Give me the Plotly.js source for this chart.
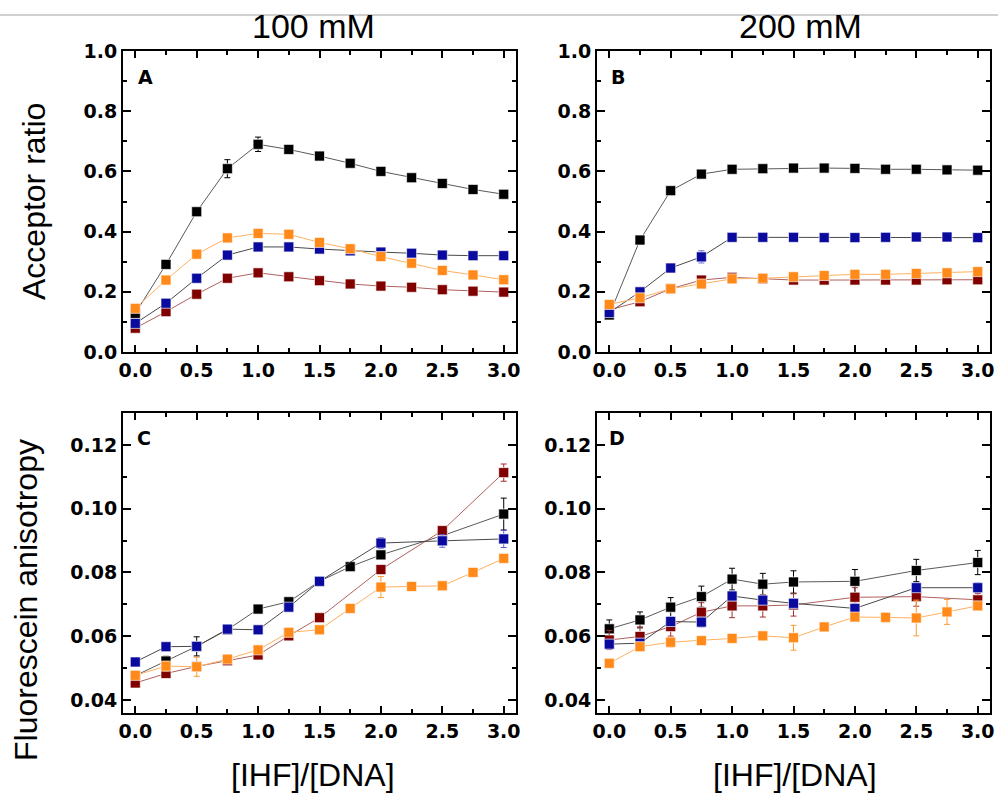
<!DOCTYPE html>
<html><head><meta charset="utf-8">
<script src="https://cdn.plot.ly/plotly-3.0.1.min.js"></script>
<style>html,body{margin:0;padding:0;background:#fff}#chart{width:998px;height:798px}</style>
</head><body><div id="chart"></div>
<script>
// ---------- data ----------
const xFull = [0,0.25,0.5,0.75,1,1.25,1.5,1.75,2,2.25,2.5,2.75,3];
const xC_black = [0,0.25,0.5,0.75,1,1.25,1.5,1.75,2,2.5,3];
const xC = [0,0.25,0.5,0.75,1,1.25,1.5,2,2.5,3];
const xD = [0,0.25,0.5,0.75,1,1.25,1.5,2,2.5,3];

// Panel A (100 mM, acceptor ratio)
const A_black  = [0.128,0.291,0.466,0.609,0.690,0.673,0.651,0.627,0.600,0.579,0.560,0.540,0.524];
const A_red    = [0.079,0.134,0.192,0.245,0.263,0.250,0.237,0.226,0.219,0.215,0.207,0.202,0.199];
const A_blue   = [0.095,0.162,0.245,0.322,0.349,0.349,0.342,0.336,0.332,0.328,0.322,0.320,0.320];
const A_orange = [0.145,0.239,0.325,0.379,0.394,0.391,0.364,0.343,0.317,0.295,0.271,0.256,0.240];
const A_black_err  = [0.008,0.012,0.012,0.030,0.024,0.010,0.006,0.005,0.005,0.005,0.005,0.005,0.005];
const A_red_err    = [0.005,0.006,0.006,0.010,0.006,0.005,0.005,0.005,0.005,0.005,0.005,0.005,0.005];
const A_blue_err   = [0.006,0.008,0.006,0.012,0.006,0.005,0.005,0.005,0.005,0.005,0.005,0.005,0.005];
const A_orange_err = [0.005,0.005,0.005,0.005,0.005,0.005,0.005,0.005,0.005,0.005,0.005,0.005,0.005];

// Panel B (200 mM, acceptor ratio)
const B_black  = [0.123,0.372,0.536,0.591,0.607,0.609,0.611,0.611,0.610,0.607,0.607,0.605,0.604];
const B_red    = [0.140,0.167,0.210,0.239,0.248,0.243,0.239,0.239,0.239,0.239,0.239,0.240,0.240];
const B_blue   = [0.131,0.200,0.279,0.316,0.381,0.381,0.381,0.380,0.380,0.381,0.382,0.382,0.380];
const B_orange = [0.158,0.180,0.210,0.226,0.243,0.245,0.250,0.254,0.258,0.258,0.261,0.263,0.267];
const B_black_err  = [0.005,0.005,0.005,0.005,0.005,0.005,0.005,0.005,0.005,0.005,0.005,0.005,0.005];
const B_red_err    = [0.005,0.005,0.005,0.005,0.005,0.005,0.005,0.005,0.005,0.005,0.005,0.005,0.005];
const B_blue_err   = [0.005,0.005,0.010,0.020,0.005,0.005,0.005,0.005,0.005,0.005,0.005,0.005,0.005];
const B_orange_err = [0.005,0.005,0.005,0.005,0.005,0.005,0.005,0.005,0.005,0.005,0.005,0.005,0.005];

// Panel C (100 mM, anisotropy)
const C_black  = [0.0476,0.0522,0.0568,0.0620,0.0685,0.0708,0.0772,0.0818,0.0855,0.0915,0.0983];
const C_red    = [0.0453,0.0483,0.0505,0.0523,0.0541,0.0601,0.0658,0.0809,0.0931,0.1113];
const C_blue   = [0.0519,0.0567,0.0568,0.0622,0.0620,0.0691,0.0772,0.0892,0.0899,0.0905];
const C_orange = [0.0477,0.0506,0.0504,0.0528,0.0557,0.0612,0.0620,0.0687,0.0754,0.0756,0.0758,0.0800,0.0844];
const C_black_err  = [0.0015,0.0015,0.0030,0.0010,0.0010,0.0008,0.0008,0.0008,0.0008,0.0015,0.0050];
const C_red_err    = [0.0010,0.0010,0.0010,0.0008,0.0008,0.0008,0.0010,0.0012,0.0012,0.0027];
const C_blue_err   = [0.0010,0.0008,0.0010,0.0008,0.0012,0.0010,0.0012,0.0017,0.0020,0.0027];
const C_orange_err = [0.0010,0.0015,0.0030,0.0008,0.0008,0.0008,0.0008,0.0008,0.0033,0.0008,0.0008,0.0008,0.0010];

// Panel D (200 mM, anisotropy)
const D_black  = [0.0623,0.0651,0.0691,0.0724,0.0779,0.0763,0.0770,0.0772,0.0806,0.0831];
const D_red    = [0.0588,0.0599,0.0630,0.0675,0.0695,0.0695,0.0698,0.0722,0.0724,0.0714];
const D_blue   = [0.0575,0.0578,0.0646,0.0644,0.0726,0.0713,0.0703,0.0687,0.0752,0.0752];
const D_orange = [0.0515,0.0567,0.0581,0.0586,0.0593,0.0601,0.0595,0.0629,0.0660,0.0659,0.0657,0.0676,0.0695];
const D_black_err  = [0.0028,0.0025,0.0030,0.0033,0.0034,0.0034,0.0035,0.0037,0.0035,0.0038];
const D_red_err    = [0.0030,0.0030,0.0030,0.0030,0.0037,0.0035,0.0035,0.0030,0.0030,0.0020];
const D_blue_err   = [0.0015,0.0015,0.0015,0.0015,0.0015,0.0015,0.0015,0.0015,0.0015,0.0015];
const D_orange_err = [0.0008,0.0012,0.0015,0.0008,0.0008,0.0008,0.0039,0.0008,0.0010,0.0015,0.0056,0.0039,0.0010];

const titlesTop = ['100 mM','200 mM'];
const yTitles = ['Acceptor ratio','Fluorescein anisotropy'];
const xTitle = '[IHF]/[DNA]';
const panelLetters = ['A','B','C','D'];

// ---------- styles ----------
const styles = {
  black:  {marker:'#000000', line:'#5a5a5a', err:'#000000'},
  red:    {marker:'#800000', line:'#b06060', err:'#a03030'},
  blue:   {marker:'#0a0a9e', line:'#4a4a4a', err:'#5a5ad0'},
  orange: {marker:'#ff8a1a', line:'#ffb060', err:'#ff9a33'}
};
function tr(x, y, err, s, xa, ya){
  const st = styles[s];
  return {x:x, y:y, type:'scatter', mode:'lines+markers', xaxis:xa, yaxis:ya,
    line:{color:st.line, width:1},
    marker:{symbol:'square', size:10, color:st.marker, line:{color:'rgba(255,255,255,0.65)', width:1}},
    error_y:{type:'data', array:err, visible:true, color:st.err, thickness:1, width:3},
    showlegend:false, hoverinfo:'x+y'};
}
const data = [
  tr(xFull, A_black, A_black_err, 'black','x','y'),
  tr(xFull, A_red, A_red_err, 'red','x','y'),
  tr(xFull, A_blue, A_blue_err, 'blue','x','y'),
  tr(xFull, A_orange, A_orange_err, 'orange','x','y'),
  tr(xFull, B_black, B_black_err, 'black','x2','y2'),
  tr(xFull, B_red, B_red_err, 'red','x2','y2'),
  tr(xFull, B_blue, B_blue_err, 'blue','x2','y2'),
  tr(xFull, B_orange, B_orange_err, 'orange','x2','y2'),
  tr(xC_black, C_black, C_black_err, 'black','x3','y3'),
  tr(xC, C_red, C_red_err, 'red','x3','y3'),
  tr(xC, C_blue, C_blue_err, 'blue','x3','y3'),
  tr(xFull, C_orange, C_orange_err, 'orange','x3','y3'),
  tr(xD, D_black, D_black_err, 'black','x4','y4'),
  tr(xD, D_red, D_red_err, 'red','x4','y4'),
  tr(xD, D_blue, D_blue_err, 'blue','x4','y4'),
  tr(xFull, D_orange, D_orange_err, 'orange','x4','y4')
];

// ---------- layout ----------
const W = 998, H = 798;
const tickFont = {family:'DejaVu Sans, Arial, sans-serif', size:19, color:'#000', weight:'bold'};
function px2x(a,b){return [a/W, b/W];}
function px2y(top,bot){return [1-bot/H, 1-top/H];}
function xax(dom, anchor){
  return {domain:dom, anchor:anchor, range:[-0.1,3.1], showgrid:false, zeroline:false,
    showline:true, linewidth:2, linecolor:'#000', mirror:'allticks',
    ticks:'inside', ticklen:7, tickwidth:2, tickcolor:'#000',
    tickmode:'linear', tick0:0, dtick:0.5, tickformat:'.1f', tickfont:tickFont,
    minor:{ticks:'inside', dtick:0.25, tick0:0, ticklen:4, tickwidth:2, tickcolor:'#000', showgrid:false},
    fixedrange:true};
}
function yax(dom, anchor, range, dtick, fmt){
  return {domain:dom, anchor:anchor, range:range, showgrid:false, zeroline:false,
    showline:true, linewidth:2, linecolor:'#000', mirror:'allticks',
    ticks:'inside', ticklen:8, tickwidth:2, tickcolor:'#000',
    tickmode:'linear', tick0:0, dtick:dtick, tickformat:fmt, tickfont:tickFont,
    showticklabels:true,
    minor:{ticks:'inside', dtick:dtick/2, tick0:0, ticklen:4, tickwidth:2, tickcolor:'#000', showgrid:false},
    fixedrange:true};
}
const layout = {
  width:W, height:H, margin:{l:0,r:0,t:0,b:0},
  paper_bgcolor:'#fff', plot_bgcolor:'#fff', showlegend:false,
  xaxis:  xax(px2x(123,516),'y'),
  yaxis:  yax(px2y(51,352),'x',[0,1],0.2,'.1f'),
  xaxis2: xax(px2x(597,990),'y2'),
  yaxis2: yax(px2y(51,352),'x2',[0,1],0.2,'.1f'),
  xaxis3: xax(px2x(123,516),'y3'),
  yaxis3: yax(px2y(413,713),'x3',[0.0359,0.130],0.02,'.2f'),
  xaxis4: xax(px2x(597,990),'y4'),
  yaxis4: yax(px2y(413,713),'x4',[0.0359,0.130],0.02,'.2f'),
  shapes:[{type:'line', xref:'paper', yref:'paper', x0:0, x1:1, y0:1-15/H, y1:1-15/H,
    line:{color:'#c0c0c0', width:1.5}}],
  annotations:[]
};
const bigFont = {family:'Liberation Sans, Arial, sans-serif', size:34, color:'#000'};
const titleFont = {family:'Liberation Sans, Arial, sans-serif', size:32, color:'#000'};
const letterFont = {family:'DejaVu Sans, Arial, sans-serif', size:19, color:'#000', weight:'bold'};
function ann(text, xpx, ypx, font, angle){
  layout.annotations.push({text:text, xref:'paper', yref:'paper', x:xpx/W, y:1-ypx/H,
    xanchor:'center', yanchor:'middle', showarrow:false, font:font, textangle:angle||0});
}
ann(titlesTop[0], 313, 26, bigFont);
ann(titlesTop[1], 800, 26, bigFont);
ann(yTitles[0], 34, 202, titleFont, -90);
ann(yTitles[1], 26, 600, titleFont, -90);
ann(xTitle, 313, 775, titleFont);
ann(xTitle, 795, 775, titleFont);
ann(panelLetters[0], 145, 77, letterFont);
ann(panelLetters[1], 618, 77, letterFont);
ann(panelLetters[2], 144, 438, letterFont);
ann(panelLetters[3], 617, 438, letterFont);

Plotly.newPlot('chart', data, layout, {staticPlot:true, displayModeBar:false});
</script></body></html>
